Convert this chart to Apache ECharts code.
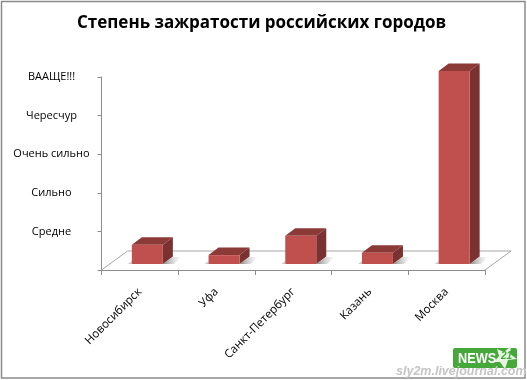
<!DOCTYPE html>
<html><head><meta charset="utf-8">
<style>html,body{margin:0;padding:0;background:#fff}#c{width:527px;height:380px}</style>
<script src="https://cdn.jsdelivr.net/npm/echarts@6/dist/echarts.min.js"></script>
</head><body><div id="c"></div>
<script>
const titleText = 'Степень зажратости российских городов';
const cities = ['Новосибирск','Уфа','Санкт-Петербург','Казань','Москва'];
const levels = [0.5,0.23,0.73,0.29,5];
const tickLabels = ['','Средне','Сильно','Очень сильно','Чересчур','ВААЩЕ!!!'];
const FONT = '"Open Sans","Noto Sans",sans-serif';

const chart = echarts.init(document.getElementById('c'),null,{renderer:'canvas'});
const DX=10, DY=7.5, LIFT=6, SHIFT=7.5, BW=31;
chart.setOption({
  animation:false,
  backgroundColor:'#fff',
  title:{text:titleText,left:77,top:15,padding:0,itemGap:0,
    textStyle:{fontFamily:FONT,fontSize:17,fontWeight:'bold',color:'#000'}},
  grid:{left:101.5,right:42,top:77,bottom:110,containLabel:false},
  xAxis:{type:'category',data:cities,boundaryGap:true,
    axisLine:{lineStyle:{color:'#8c8c8c',width:1}},
    axisTick:{show:true,alignWithLabel:false,length:5,lineStyle:{color:'#8c8c8c'}},
    axisLabel:{interval:0,rotate:45,margin:20,fontFamily:FONT,fontSize:11.5,color:'#000'}},
  yAxis:{type:'value',min:0,max:5,interval:1,
    axisLine:{show:true,lineStyle:{color:'#8c8c8c',width:1}},
    axisTick:{show:true,length:4,lineStyle:{color:'#8c8c8c'}},
    splitLine:{show:false},
    axisLabel:{margin:50,align:'center',fontFamily:FONT,fontSize:11,color:'#000',
      formatter:v=>tickLabels[v]}},
  series:[
  {type:'custom',silent:true,z:1,data:[[0,0]],clip:false,
   renderItem(p,api){
     const s=p.coordSys, x0=s.x, x1=s.x+s.width, y=s.y+s.height;
     const bx=26, by=19;
     return {type:'group',children:[
       {type:'polyline',shape:{points:[[x0,y],[x0+bx,y-by],[x1+bx,y-by],[x1,y]]},
        style:{stroke:'#a6a6a6',lineWidth:1,fill:null}}
     ]};
   }},
  {type:'custom',silent:true,z:2,clip:false,
   data:levels.map((v,i)=>[i,v]),
   encode:{x:0,y:1},
   renderItem(p,api){
     const base=api.coord([api.value(0),0]), top=api.coord([api.value(0),api.value(1)]);
     const l=base[0]+SHIFT-BW/2, r=l+BW, b=base[1]-LIFT, t=top[1]-LIFT;
     return {type:'group',children:[
       {type:'polygon',shape:{points:[[r,b],[r+10,b-7],[r+19,b-7],[r+11,b]]},
        style:{fill:new echarts.graphic.LinearGradient(0,0,1,0,[{offset:0,color:'rgba(90,90,90,0.75)'},{offset:1,color:'rgba(190,190,190,0)'}])}},
       {type:'polygon',shape:{points:[[l,b],[l-4,b],[l,b-3]]},style:{fill:'rgba(150,150,150,0.5)'}},
       {type:'polygon',shape:{points:[[l,t],[l+DX,t-DY],[r+DX,t-DY],[r,t]]},style:{fill:'#8c3a38'}},
       {type:'polygon',shape:{points:[[r,t],[r+DX,t-DY],[r+DX,b-DY],[r,b]]},style:{fill:'#7a3230'}},
       {type:'rect',shape:{x:l,y:t,width:BW,height:b-t},style:{fill:'#c0504d'}}
     ]};
   }}
  ],
  graphic:[
    {type:'rect',z:100,shape:{x:1.5,y:1.5,width:523.5,height:376.5},style:{fill:null,stroke:'#8a8a8a',lineWidth:1.5}},
    {type:'rect',z:100,shape:{x:453,y:348,width:64,height:20,r:2},style:{fill:'#46a83a'}},
    {type:'polygon',z:101,shape:{points:[[511,346],[510,354],[517,359],[508,360],[505,369],[500,362],[494,362],[499,356],[497,349],[504,352]]},style:{fill:'#e6f4e2'}},
    {type:'text',z:102,x:458,y:359,scaleX:0.85,style:{x:0,y:0,text:'NEWS',fill:'#fff',font:'bold 15px "Liberation Sans",sans-serif',verticalAlign:'middle'}},
    {type:'text',z:102,style:{x:501,y:356,text:'21',fill:'#46a83a',font:'bold italic 10px "Liberation Sans",sans-serif',verticalAlign:'middle'}},
    {type:'text',z:103,style:{x:396,y:372,text:'sly2m.livejournal.com',fill:'#c4c4c4',font:'italic bold 12.5px "Liberation Sans",sans-serif',verticalAlign:'middle'}}
  ]
});
</script></body></html>
